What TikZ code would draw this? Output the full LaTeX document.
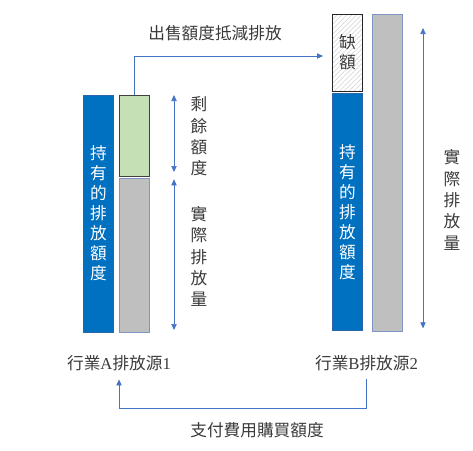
\documentclass[tikz,border=0pt]{standalone}
\usepackage{fontspec}
\setmainfont{Liberation Serif}
\newfontfamily\cjk{Noto Sans CJK TC}
\usetikzlibrary{positioning,arrows.meta,patterns.meta}

\definecolor{quotablue}{HTML}{0070C0}
\definecolor{quotaedge}{HTML}{2E65A8}
\definecolor{surplusgreen}{HTML}{C5E0B4}
\definecolor{emitgray}{HTML}{BFBFBF}
\definecolor{emitedge}{HTML}{7F95C4}
\definecolor{linkblue}{HTML}{4472C4}
\definecolor{textgray}{HTML}{3A3A3A}

\tikzset{
    bar/.style={rectangle, anchor=north west, minimum width=23pt, inner sep=0pt, outer sep=0pt, line width=0.7pt},
    quota/.style={bar, fill=quotablue, draw=quotaedge, text=white, align=center, font=\cjk\fontsize{12.5}{15}\selectfont},
    surplus/.style={bar, fill=surplusgreen, draw=black!75},
    emit/.style={bar, fill=emitgray, draw=emitedge},
    gapbox/.style={bar, draw=black!85, pattern={Lines[angle=45,distance=2.6pt,line width=0.4pt]}, pattern color=black!18, text=textgray, align=center, font=\cjk\fontsize{12.5}{15}\selectfont},
    vlabel/.style={text=textgray, align=center, font=\cjk\fontsize{12.5}{16}\selectfont},
    tlabel/.style={text=textgray, font=\fontsize{12.5}{15}\selectfont},
    flow/.style={draw=linkblue, line width=0.6pt, -{Triangle[width=4pt,length=4.5pt]}},
    dim/.style={draw=linkblue, line width=0.5pt, {Triangle[width=4pt,length=4.5pt]}-{Triangle[width=4pt,length=4.5pt]}}
}

\begin{document}
\begin{tikzpicture}[x=0.75pt, y=-0.75pt]
    \useasboundingbox (0,0) rectangle (473,450);

    % source 1
    \node[quota, minimum height=177.75pt] (quotaA) at (83,95) {持\\有\\的\\排\\放\\額\\度};
    \node[surplus, minimum height=60.75pt] (surplus) at (119,95) {};
    \node[emit, minimum height=115.5pt, below=1.5pt of surplus.south west, anchor=north west] (emitA) {};

    % source 2
    \node[gapbox, minimum height=57.75pt] (gap) at (332,14) {缺\\額};
    \node[quota, minimum height=177.75pt, below=2pt of gap.south west, anchor=north west] (quotaB) {持\\有\\的\\排\\放\\額\\度};
    \node[emit, minimum height=237.75pt] (emitB) at (372,14) {};

    % size marks
    \coordinate (dimA) at (174,0);
    \coordinate (dimB) at (423,0);
    \draw[dim, shorten >=3pt] (surplus.north -| dimA) -- (surplus.south -| dimA);
    \draw[dim, shorten <=1pt, shorten >=1.5pt] (emitA.north -| dimA) -- (emitA.south -| dimA);
    \draw[dim, shorten <=10.5pt, shorten >=2pt] (emitB.north -| dimB) -- (emitB.south -| dimB);

    \node[vlabel] (surplusTxt) at (199,136.5) {剩\\餘\\額\\度};
    \node[vlabel] (emitATxt) at (199,256.5) {實\\際\\排\\放\\量};
    \node[vlabel] (emitBTxt) at (452,200) {實\\際\\排\\放\\量};

    % trading
    \node[tlabel] (srcA) at (119,363) {{\cjk 行業}A{\cjk 排放源}1};
    \node[tlabel] (srcB) at (366.5,363) {{\cjk 行業}B{\cjk 排放源}2};
    \node[vlabel] (sell) at (215,33) {出售額度抵減排放};
    \node[vlabel] (pay) at (257,430) {支付費用購買額度};

    \coordinate (sellEnd) at (323,56);
    \coordinate (payLine) at (0,408);
    \draw[flow] (surplus.north) |- (sellEnd);
    \draw[flow, shorten <=3pt, shorten >=3pt] (srcB.south) -- (srcB.south |- payLine) -| (srcA.south);
\end{tikzpicture}
\end{document}
